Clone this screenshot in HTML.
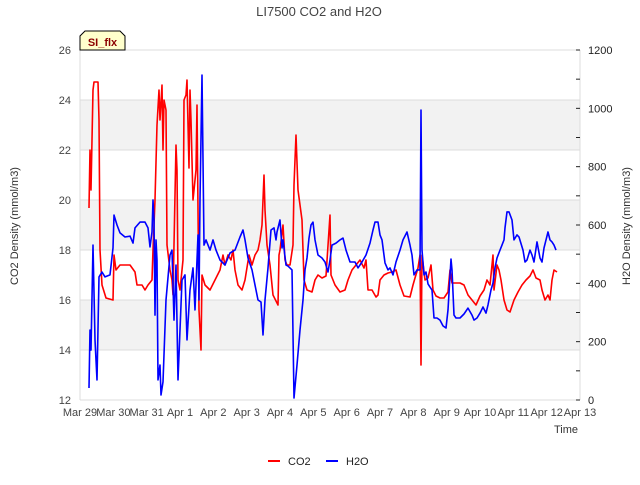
<!DOCTYPE html>
<html><head><meta charset="utf-8"><style>
body{margin:0;background:#fff;}
svg text{font-family:"Liberation Sans","DejaVu Sans",sans-serif;}
</style></head><body>
<svg id="chart" width="640" height="480" xmlns="http://www.w3.org/2000/svg">
<rect width="640" height="480" fill="#fff"/>
<text x="319" y="16" text-anchor="middle" font-size="13" fill="#444">LI7500 CO2 and H2O</text>
<g id="grid"></g>
<g id="axes"></g>
<g id="series"></g>
<g>
<path d="M80,50 L80,36 L85,31 L120,31 L125,36 L125,50 Z" fill="#ffffcc" stroke="#000" stroke-width="1"/>
<text x="102.5" y="46" text-anchor="middle" font-size="11" font-weight="bold" fill="#8b0000">SI_flx</text>
</g>
<text transform="translate(18,226) rotate(-90)" text-anchor="middle" font-size="11" fill="#333">CO2 Density (mmol/m3)</text>
<text transform="translate(630,226) rotate(-90)" text-anchor="middle" font-size="11" fill="#333">H2O Density (mmol/m3)</text>
<text x="578" y="433" text-anchor="end" font-size="11" fill="#333">Time</text>
<g>
<g><line x1="268" y1="461" x2="280" y2="461" stroke="#f00" stroke-width="2"/><text x="288" y="465" font-size="11" fill="#222">CO2</text></g>
<g><line x1="326" y1="461" x2="338" y2="461" stroke="#00f" stroke-width="2"/><text x="346" y="465" font-size="11" fill="#222">H2O</text></g>
</g>
</svg>
<script>
const xTickLabels=["Mar 29","Mar 30","Mar 31","Apr 1","Apr 2","Apr 3","Apr 4","Apr 5","Apr 6","Apr 7","Apr 8","Apr 9","Apr 10","Apr 11","Apr 12","Apr 13"];
const leftTicks=[12,14,16,18,20,22,24,26];
const rightTicks=[0,200,400,600,800,1000,1200];
const co2Days=[0.27,0.30,0.33,0.39,0.42,0.54,0.57,0.60,0.66,0.78,0.99,1.02,1.08,1.20,1.35,1.50,1.65,1.71,1.86,1.95,2.04,2.16,2.19,2.25,2.31,2.37,2.40,2.46,2.49,2.52,2.58,2.61,2.70,2.76,2.79,2.88,2.91,2.94,3.00,3.09,3.12,3.18,3.21,3.27,3.30,3.33,3.39,3.48,3.51,3.54,3.57,3.63,3.66,3.75,3.90,4.05,4.20,4.29,4.35,4.44,4.53,4.59,4.65,4.74,4.86,4.95,5.07,5.16,5.25,5.34,5.40,5.46,5.52,5.55,5.61,5.70,5.79,5.94,5.97,6.00,6.09,6.15,6.21,6.30,6.39,6.42,6.48,6.54,6.60,6.66,6.72,6.81,6.96,7.05,7.14,7.26,7.38,7.50,7.53,7.65,7.80,7.95,8.04,8.16,8.28,8.40,8.52,8.58,8.64,8.76,8.88,8.94,9.00,9.12,9.24,9.36,9.48,9.60,9.72,9.90,9.99,10.05,10.14,10.20,10.23,10.26,10.35,10.44,10.53,10.59,10.68,10.80,10.92,11.04,11.10,11.16,11.25,11.40,11.52,11.64,11.76,11.88,12.00,12.12,12.21,12.30,12.39,12.42,12.51,12.57,12.63,12.72,12.81,12.90,13.02,13.14,13.26,13.38,13.50,13.59,13.68,13.80,13.86,13.95,14.04,14.10,14.16,14.22,14.31];
const co2Values=[19.68,22.0,20.4,24.4,24.72,24.72,23.2,18.0,16.6,16.08,16.0,17.8,17.2,17.4,17.4,17.4,17.12,16.6,16.6,16.4,16.6,16.8,18.0,20.0,23.0,24.4,23.2,24.6,22.0,24.0,23.6,18.2,17.2,16.8,16.2,22.2,21.2,16.8,16.4,17.6,24.0,24.2,24.8,21.28,24.4,23.2,20.0,21.2,23.8,19.6,15.6,14.0,17.0,16.6,16.4,16.8,17.2,17.8,17.4,17.8,17.6,18.0,17.2,16.6,16.4,16.8,17.8,17.4,17.8,18.0,18.4,19.0,21.0,19.6,18.2,17.4,16.2,15.8,17.8,18.0,19.0,17.6,17.4,17.4,18.2,20.6,22.6,20.4,19.8,19.2,16.8,16.4,16.32,16.8,17.0,16.88,16.96,19.4,17.0,16.6,16.32,16.4,16.8,17.2,17.4,17.6,17.28,17.6,16.4,16.4,16.12,16.2,16.8,17.0,17.08,17.12,17.2,16.6,16.16,16.12,16.6,16.88,17.28,17.8,13.4,17.8,16.8,16.88,17.4,16.4,16.16,16.08,16.08,16.32,17.2,16.68,16.68,16.68,16.6,16.2,16.0,15.8,16.16,16.4,16.8,16.6,17.8,16.4,17.4,17.2,16.8,16.0,15.6,15.52,16.0,16.32,16.6,16.8,16.96,17.2,16.88,16.8,16.4,16.0,16.2,16.0,16.8,17.2,17.12];
const h2oDays=[0.27,0.30,0.33,0.39,0.45,0.51,0.57,0.66,0.75,0.90,0.99,1.02,1.11,1.20,1.35,1.50,1.59,1.65,1.80,1.95,2.04,2.10,2.16,2.19,2.22,2.25,2.28,2.31,2.34,2.40,2.43,2.49,2.58,2.70,2.76,2.82,2.88,2.94,3.00,3.06,3.15,3.21,3.30,3.39,3.45,3.54,3.57,3.60,3.66,3.72,3.78,3.90,3.99,4.08,4.20,4.35,4.50,4.65,4.80,4.89,4.95,5.04,5.16,5.28,5.34,5.43,5.49,5.55,5.64,5.73,5.82,5.88,5.91,6.00,6.06,6.09,6.18,6.24,6.36,6.42,6.51,6.60,6.69,6.75,6.81,6.87,6.93,6.99,7.05,7.14,7.26,7.35,7.44,7.50,7.56,7.68,7.80,7.89,7.98,8.10,8.25,8.34,8.46,8.58,8.70,8.79,8.85,8.94,9.00,9.06,9.15,9.24,9.30,9.39,9.48,9.60,9.69,9.81,9.90,9.96,10.02,10.11,10.20,10.23,10.26,10.32,10.38,10.44,10.50,10.56,10.62,10.71,10.80,10.89,10.98,11.04,11.13,11.16,11.22,11.28,11.40,11.52,11.64,11.76,11.82,11.91,12.00,12.09,12.18,12.24,12.33,12.39,12.45,12.51,12.60,12.66,12.72,12.75,12.81,12.87,12.96,13.02,13.11,13.17,13.29,13.35,13.41,13.50,13.56,13.62,13.71,13.80,13.86,13.92,13.98,14.04,14.10,14.16,14.22,14.28];
const h2oValues=[41,240,171,531,206,69,422,439,422,429,521,634,600,573,559,562,538,590,610,610,590,525,576,686,617,291,549,480,69,120,17,62,343,497,514,274,463,69,240,411,429,206,377,453,309,566,343,686,1114,531,549,514,549,514,480,463,504,514,559,583,549,487,446,377,343,336,223,343,453,583,590,549,576,617,521,549,463,459,446,7,120,240,343,446,487,555,600,610,549,497,487,473,439,480,531,538,549,555,514,473,473,453,473,497,538,583,610,610,566,549,470,446,453,429,473,514,549,576,531,497,429,446,446,994,514,429,439,398,387,377,281,281,274,254,247,309,483,446,291,281,281,295,315,291,274,281,298,319,298,326,377,401,453,487,514,531,549,590,645,645,617,549,566,559,514,473,480,514,497,473,542,487,473,521,549,576,549,542,531,514];

const NS="http://www.w3.org/2000/svg";
const X0=80,X1=580,Y0=400,Y1=50;
const xScale=d=>X0+(d/15)*(X1-X0);
const yLeft=v=>Y0-(v-12)/14*(Y0-Y1);
const yRight=v=>Y0-v/1200*(Y0-Y1);
function mk(tag,attrs,parent){const e=document.createElementNS(NS,tag);for(const k in attrs)e.setAttribute(k,attrs[k]);parent.appendChild(e);return e;}
const grid=document.getElementById('grid'),axes=document.getElementById('axes'),series=document.getElementById('series');
for(let i=0;i<leftTicks.length-1;i++){
  if(i%2===1){const b=mk('rect',{x:X0,y:yLeft(leftTicks[i+1]),width:X1-X0,height:yLeft(leftTicks[i])-yLeft(leftTicks[i+1]),fill:'#f2f2f2'},grid);
  
  }
}
leftTicks.forEach(t=>{
  const y=yLeft(t);
  const l=mk('line',{x1:X0,x2:X1,y1:y,y2:y,stroke:'#dcdcdc','stroke-width':1},grid);
  
  
  const tx=mk('text',{x:71,y:y+4,'text-anchor':'end','font-size':11,fill:'#444'},axes);
  tx.textContent=t;
  
  
});
mk('line',{x1:X0,x2:X0,y1:Y1,y2:Y0,stroke:'#dcdcdc'},axes);
mk('line',{x1:X1,x2:X1,y1:Y1,y2:Y0,stroke:'#dcdcdc'},axes);
for(let v=0;v<=1200;v+=100){const y=yRight(v);mk('line',{x1:X1-4,x2:X1,y1:y,y2:y,stroke:'#222'},axes);}
rightTicks.forEach(t=>{
  const tx=mk('text',{x:588,y:yRight(t)+4,'font-size':11,fill:'#222'},axes);
  tx.textContent=t;
  
  
});
xTickLabels.forEach((s,i)=>{
  const tx=mk('text',{x:xScale(i),y:416,'text-anchor':'middle','font-size':11,fill:'#444'},axes);
  tx.textContent=s;
  
  
});
function line(days,vals,ys,color,name){
  const d=days.map((x,i)=>(i?'L':'M')+xScale(x).toFixed(1)+','+ys(vals[i]).toFixed(1)).join(' ');
  const p=mk('path',{d:d,fill:'none',stroke:color,'stroke-width':1.6,'stroke-linejoin':'round'},series);
  
  
}
line(co2Days,co2Values,yLeft,'#ff0000','co2-line');
line(h2oDays,h2oValues,yRight,'#0000ff','h2o-line');
</script>
</body></html>
